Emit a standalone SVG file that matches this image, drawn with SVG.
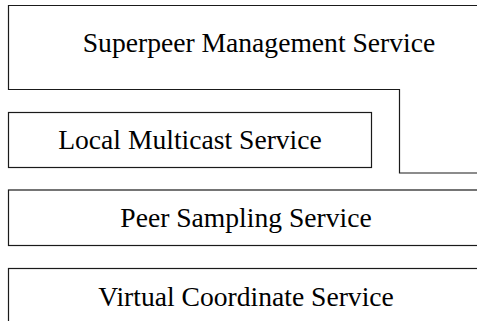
<svg xmlns="http://www.w3.org/2000/svg" width="477" height="321" viewBox="0 0 477 321">
<style>
.box{fill:#fff;stroke:#1a1a1a;stroke-width:1.2}
.lbl{font-family:"Liberation Serif","Times New Roman",serif;font-size:27.6px;fill:#000;text-anchor:middle}
</style>
<rect width="477" height="321" fill="#fff"/>
<g id="superpeer">
<path class="box" d="M490,5.5 H8.5 V89.5 H399.5 V173 H490"/>
<text class="lbl" x="259" y="52">Superpeer Management Service</text>
</g>
<g id="local-multicast">
<rect class="box" x="8.5" y="112.5" width="363" height="55"/>
<text class="lbl" x="190" y="149">Local Multicast Service</text>
</g>
<g id="peer-sampling">
<rect class="box" x="8.5" y="190" width="482" height="55.5"/>
<text class="lbl" x="246" y="227">Peer Sampling Service</text>
</g>
<g id="virtual-coordinate">
<rect class="box" x="8.5" y="268.5" width="482" height="70"/>
<text class="lbl" x="246" y="306">Virtual Coordinate Service</text>
</g>
<g id="connectors"></g>
</svg>
